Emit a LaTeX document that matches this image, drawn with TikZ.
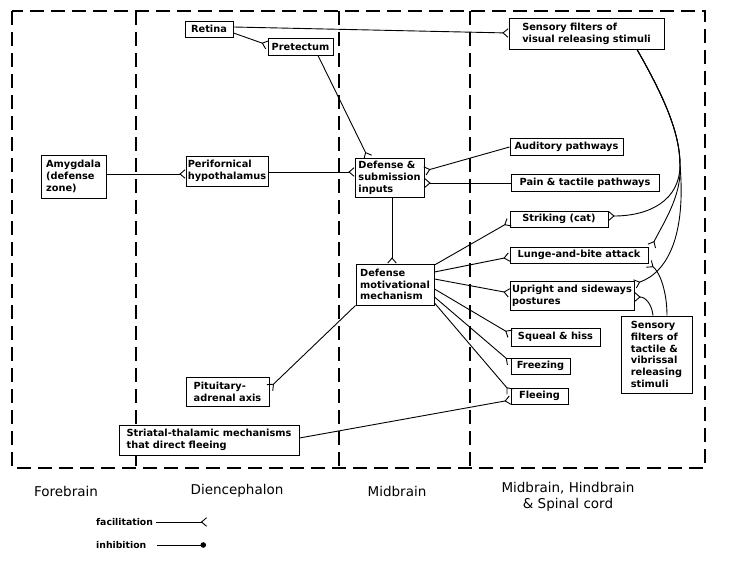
\documentclass[tikz,border=0pt]{standalone}
\usepackage{fontspec}
\setmainfont{DejaVu Sans}
\usetikzlibrary{arrows.meta,calc}
\newcommand\boxfont{\fontsize{9.8}{11.8}\selectfont\bfseries}
\newcommand\regfont{\fontsize{13.5}{16}\selectfont}
\newcommand\legfont{\fontsize{9.3}{11}\selectfont\bfseries}
\begin{document}
\begin{tikzpicture}[x=1pt,y=-1pt,
  bx/.style={draw, fill=white, line width=1pt, font=\boxfont, align=left, inner sep=0pt},
  sz/.style 2 args={minimum width=#1pt, minimum height=#2pt},
  frame/.style={dash pattern=on 14pt off 7pt, line width=1.4pt},
  conn/.style={line width=0.9pt},
  fac/.style={conn, -{Straight Barb[reversed,length=5pt,width=8.5pt,line width=0.9pt]}},
  inh/.style={conn, -{Circle[length=5.5pt]}},
  reg/.style={font=\regfont, align=center},
  leg/.style={font=\legfont, anchor=west, inner sep=0pt}]
\useasboundingbox (0,0) rectangle (750,570);
% dashed region frames
\draw[frame] (12,11) rectangle (705,468);
\draw[frame] (136,11) -- (136,468);
\draw[frame] (339,11) -- (339,468);
\draw[frame] (470,11) -- (470,468);
% boxes
\node[bx, sz={48}{16}] (retina) at (209,29) {Retina};
\node[bx, sz={65}{17}] (pretectum) at (300.5,46.5) {Pretectum};
\node[bx, sz={65}{43}] (amygdala) at (73.5,176.5) {Amygdala\\(defense\\zone)};
\node[bx, sz={82}{30}] (perifornical) at (227,171) {Perifornical\\hypothalamus};
\node[bx, sz={69}{39}] (definputs) at (389.5,177.5) {Defense \&\\submission\\inputs};
\node[bx, sz={155}{31}] (visual) at (586.5,33.5) {Sensory filters of\\visual releasing stimuli};
\node[bx, sz={113}{17}] (auditory) at (566.5,146.5) {Auditory pathways};
\node[bx, sz={148}{17}] (pain) at (585,182.5) {Pain \& tactile pathways};
\node[bx, sz={98}{16}] (striking) at (559,219) {Striking (cat)};
\node[bx, sz={138}{16}] (lunge) at (579,255) {Lunge-and-bite attack};
\node[bx, sz={124}{29}] (upright) at (572,295.5) {Upright and sideways\\postures};
\node[bx, sz={89}{18}] (squeal) at (555.5,337) {Squeal \& hiss};
\node[bx, sz={59}{16}] (freezing) at (540.5,366) {Freezing};
\node[bx, sz={57}{16}] (fleeing) at (539.5,396) {Fleeing};
\node[bx, sz={71}{77}] (tactile) at (656.5,354.5) {Sensory\\filters of\\tactile \&\\vibrissal\\releasing\\stimuli};
\node[bx, sz={78}{41}] (motiv) at (395,284.5) {Defense\\motivational\\mechanism};
\node[bx, sz={83}{29}] (pituitary) at (227.5,391.5) {Pituitary-\\adrenal axis};
\node[bx, sz={180}{30}] (striatal) at (209,440) {Striatal-thalamic mechanisms\\that direct fleeing};
% straight connectors
\draw[fac] (retina.east |- 0,27) -- (visual.west |- 0,33);
\draw[fac] (retina.east |- 0,33) -- (pretectum.west |- 0,45);
\draw[fac] (pretectum.south -| 318,0) -- (definputs.north -| 368,0);
\draw[fac] (amygdala.east |- 0,174) -- (perifornical.west |- 0,174);
\draw[fac] (perifornical.east |- 0,172) -- (definputs.west |- 0,172);
\draw[fac] (auditory.west |- 0,147) -- (definputs.east |- 0,171);
\draw[fac] (pain.west |- 0,183) -- (definputs.east |- 0,183);
\draw[fac] (definputs.south -| 392,0) -- (motiv.north -| 392,0);
\draw[fac] (motiv.east |- 0,265) -- (striking.west |- 0,222);
\draw[fac] (motiv.east |- 0,272) -- (lunge.west |- 0,257);
\draw[fac] (motiv.east |- 0,279) -- (upright.west |- 0,293);
\draw[fac] (motiv.east |- 0,289) -- (squeal.west |- 0,334);
\draw[fac] (motiv.east |- 0,297) -- (freezing.west |- 0,362);
\draw[fac] (motiv.east |- 0,303) -- (fleeing.west |- 0,392);
\draw[fac] (motiv.south west) -- (pituitary.east |- 0,388);
\draw[fac] (striatal.east |- 0,438) -- (fleeing.west |- 0,400);
% curved connectors from the visual filters
\draw[fac] (visual.south -| 637,0) .. controls (666,100) and (680,135) .. (680,165)
  .. controls (680,200) and (650,216) .. (striking.east |- 0,216);
\draw[fac] (visual.south -| 637,0) .. controls (666,100) and (680,135) .. (680,165)
  .. controls (682,195) and (664,222) .. ([xshift=3pt]lunge.north east);
\draw[fac] (visual.south -| 637,0) .. controls (666,100) and (680,135) .. (680,165)
  .. controls (686,235) and (668,272) .. (upright.east |- 0,284);
% curved connectors from the tactile filters
\draw[fac] (tactile.north -| 667,0) .. controls (667,292) and (660,272) .. (lunge.south east);
\draw[fac] (tactile.north -| 653,0) .. controls (652,305) and (646,297) .. (upright.east |- 0,297);
% region labels
\node[reg] (lforebrain) at (66,491) {Forebrain};
\node[reg] (ldien) at (237,491) {Diencephalon};
\node[reg] (lmid) at (397,491) {Midbrain};
\node[reg] (lhind) at (568,497) {Midbrain, Hindbrain\\\& Spinal cord};
% legend
\node[leg] (lfac) at (96,522) {facilitation};
\coordinate (lfacend) at (207,522);
\draw[fac] (lfac.east) ++(3,0) -- (lfacend);
\node[leg] (linh) at (96,545) {inhibition};
\coordinate (linhstart) at (157,545);
\coordinate (linhend) at (206,545);
\draw[inh] (linhstart) -- (linhend);
\end{tikzpicture}
\end{document}
